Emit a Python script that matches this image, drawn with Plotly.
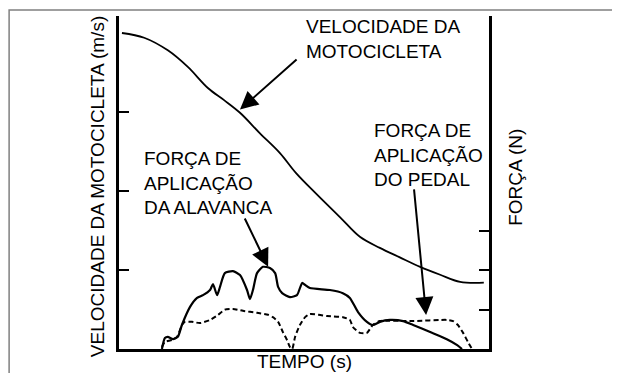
import plotly.graph_objects as go

# tempo (0..100, escala relativa) e valores
t_vel = [0.8, 6.8, 13.2, 18.6, 24.1, 28.4, 32.7, 38.1, 43.5, 47.8, 53.2, 59.7,
         65.1, 70.5, 75.9, 81.4, 86.8, 92.2, 98.6]
velocidade = [4.00, 3.94, 3.78, 3.57, 3.30, 3.15, 2.99, 2.73, 2.48, 2.23, 1.97, 1.67,
              1.42, 1.28, 1.16, 1.04, 0.94, 0.85, 0.84]

t_alav = [11.6, 12.4, 13.2, 14.6, 15.9, 17.0, 19.2, 21.1, 22.7, 24.6, 25.4, 26.5,
          27.3, 28.6, 30.8, 32.7, 34.6, 35.4, 36.2, 37.3, 38.9, 40.8, 42.2, 43.0,
          44.1, 46.2, 48.1, 49.5, 50.3, 51.6, 57.0, 60.5, 62.4, 64.6, 67.0, 68.6,
          70.5, 73.2, 76.8, 79.5, 84.1, 88.6, 91.4, 92.7]
forca_alav = [0, 0.28, 0.31, 0.25, 0.31, 0.61, 1.07, 1.30, 1.37, 1.50, 1.65, 1.37,
              1.58, 1.93, 1.98, 1.88, 1.50, 1.27, 1.50, 1.93, 2.09, 2.06, 1.93, 1.58,
              1.42, 1.32, 1.37, 1.68, 1.63, 1.55, 1.50, 1.42, 1.30, 0.94, 0.69, 0.61,
              0.69, 0.74, 0.71, 0.61, 0.43, 0.25, 0.10, 0]

t_pedal = [11.6, 12.4, 14.3, 15.7, 17.0, 17.8, 19.7, 21.9, 24.6, 26.8, 28.6, 30.8,
           33.5, 37.3, 40.3, 41.6, 43.0, 44.3, 45.4, 46.2, 46.8, 47.6, 48.9, 50.3,
           51.6, 56.2, 60.5, 62.4, 63.2, 65.1, 67.0, 68.6, 70.5, 79.5, 88.6, 90.3,
           91.6, 93.0, 94.3, 95.4]
forca_pedal = [0.05, 0.18, 0.23, 0.31, 0.61, 0.69, 0.69, 0.66, 0.74, 0.87, 1.00, 1.02,
               0.97, 0.92, 0.87, 0.81, 0.69, 0.43, 0.23, 0.05, 0, 0.31, 0.61, 0.81,
               0.89, 0.84, 0.81, 0.74, 0.56, 0.41, 0.41, 0.61, 0.71, 0.71, 0.74, 0.71,
               0.61, 0.41, 0.18, 0]

fonte = dict(family="Liberation Sans, Arial, sans-serif", size=19, color="black")

fig = go.Figure()

fig.add_trace(go.Scatter(x=t_vel, y=velocidade, mode="lines", line_shape="spline",
                         line=dict(color="black", width=1.8), yaxis="y"))
fig.add_trace(go.Scatter(x=t_alav, y=forca_alav, mode="lines",
                         line_shape="spline", line_smoothing=0.6,
                         line=dict(color="black", width=2.2), yaxis="y2"))
fig.add_trace(go.Scatter(x=t_pedal, y=forca_pedal, mode="lines",
                         line_shape="spline", line_smoothing=0.6,
                         line=dict(color="black", width=2, dash="5px,3px"), yaxis="y2"))

# a pagina tem margem de 8px no body, por isso a figura e menor e deslocada
fig.update_layout(
    width=612, height=365,
    margin=dict(l=111, r=131, t=8, b=24),
    paper_bgcolor="white", plot_bgcolor="white",
    showlegend=False,
    font=fonte,
    xaxis=dict(range=[0, 100], showgrid=False, zeroline=False, showticklabels=False,
               ticks="", showline=True, linecolor="black", linewidth=2.5),
    yaxis=dict(range=[0, 4.215], showgrid=False, zeroline=False, showticklabels=False,
               tickvals=[1, 2, 3], ticks="inside", ticklen=10, tickwidth=2,
               tickcolor="black", showline=True, linecolor="black", linewidth=2.5),
    yaxis2=dict(range=[0, 8.47], overlaying="y", side="right", showgrid=False,
                zeroline=False, showticklabels=False, tickvals=[1, 2, 3],
                ticks="inside", ticklen=10, tickwidth=2, tickcolor="black",
                showline=True, linecolor="black", linewidth=2.5),
)

# moldura cinza
fig.add_shape(type="rect", xref="paper", yref="paper", x0=-0.297, x1=1.338,
              y0=-0.2, y1=1.018, line=dict(color="#808080", width=1.5))

# titulos dos eixos
fig.add_annotation(text="VELOCIDADE DA MOTOCICLETA (m/s)", xref="paper", yref="paper",
                   x=-0.0595, y=0.489, xanchor="center", yanchor="middle",
                   textangle=-90, showarrow=False)
fig.add_annotation(text="FORÇA (N)", xref="paper", yref="paper",
                   x=1.073, y=0.514, xanchor="center", yanchor="middle",
                   textangle=-90, showarrow=False)
fig.add_annotation(text="TEMPO (s)", xref="paper", yref="paper",
                   x=0.5, y=-0.039, xanchor="center", yanchor="middle",
                   showarrow=False)

# rotulos das curvas
fig.add_annotation(text="VELOCIDADE DA<br>MOTOCICLETA", x=50.0, y=3.92,
                   xanchor="left", yanchor="middle", align="left", showarrow=False)
fig.add_annotation(text="FORÇA DE<br>APLICAÇÃO<br>DA ALAVANCA", x=6.3, y=2.10,
                   xanchor="left", yanchor="middle", align="left", showarrow=False)
fig.add_annotation(text="FORÇA DE<br>APLICAÇÃO<br>DO PEDAL", x=68.4, y=2.46,
                   xanchor="left", yanchor="middle", align="left", showarrow=False)

# setas
setas = [(48.4, 3.68, 32.7, 3.03), (33.8, 1.67, 40.3, 1.04), (79.7, 2.04, 83.0, 0.43)]
for x0, y0, x1, y1 in setas:
    fig.add_annotation(x=x1, y=y1, ax=x0, ay=y0, xref="x", yref="y", axref="x", ayref="y",
                       text="", showarrow=True, arrowhead=2, arrowsize=1.8,
                       arrowwidth=2, arrowcolor="black")

fig.write_html("out.html")
